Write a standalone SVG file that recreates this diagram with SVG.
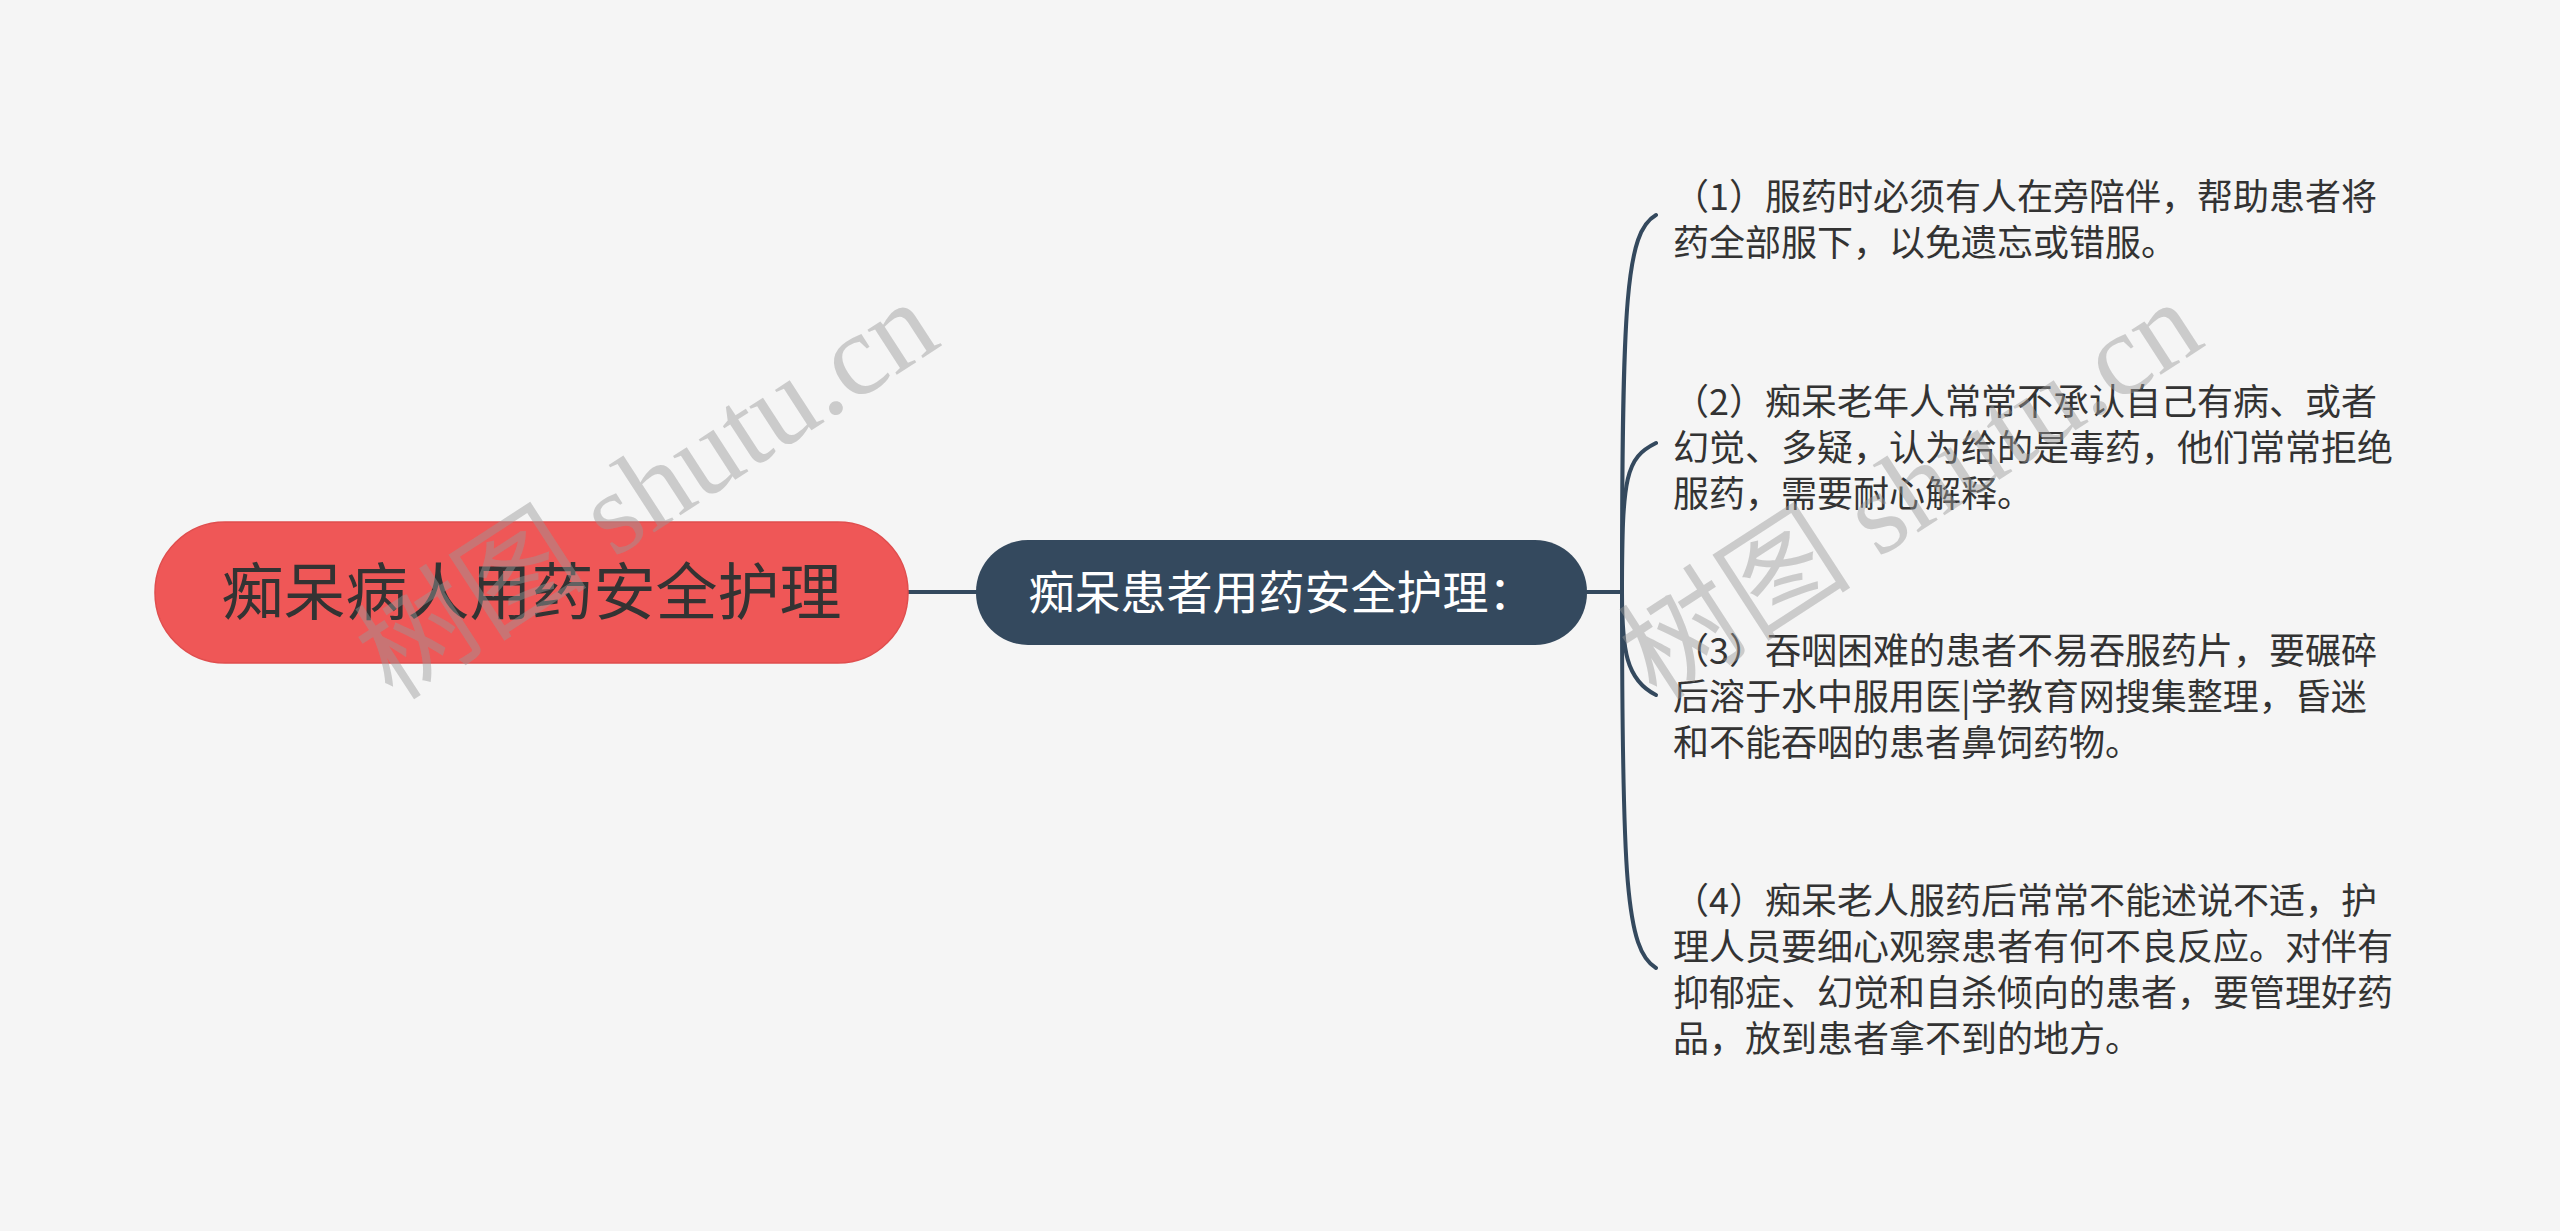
<svg xmlns="http://www.w3.org/2000/svg" width="2560" height="1231" viewBox="0 0 2560 1231">
<style>
.cjk{font-family:"Noto Sans CJK SC","Noto Sans",sans-serif}
.root-t{font-size:62px;fill:#333333}
.main-t{font-size:46px;fill:#ffffff}
.leaf-t{font-size:36px;fill:#333333}
.conn{fill:none;stroke:#34495E;stroke-width:4;stroke-linecap:round}
.wm{font-family:"Liberation Serif","Noto Sans CJK SC",serif;font-size:117px;fill:#999999;fill-opacity:0.45}
</style>
<rect width="2560" height="1231" fill="#F5F5F5"/>
<g id="connectors">
<path class="conn" d="M908,592 L976,592"/>
<path class="conn" d="M1587,592 L1622,592"/>
<path class="conn" d="M1622,592 C1622,300 1626,232 1656,215"/>
<path class="conn" d="M1622,592 C1622,475 1626,458 1656,443"/>
<path class="conn" d="M1622,592 C1622,650 1626,680 1656,695"/>
<path class="conn" d="M1622,592 C1622,880 1626,950 1656,968"/>
</g>
<g id="root">
<rect x="155" y="522" width="753" height="141" rx="70" ry="70" fill="#EF5757" stroke="#E04E4E" stroke-width="1.5"/>
<text class="cjk root-t" x="531.5" y="615" text-anchor="middle">痴呆病人用药安全护理</text>
</g>
<g id="main">
<rect x="976" y="540" width="611" height="105" rx="52" ry="52" fill="#34495E"/>
<text class="cjk main-t" x="1281.5" y="609" text-anchor="middle">痴呆患者用药安全护理：</text>
</g>
<g id="leaf1">
<text class="cjk leaf-t" x="1673" y="210">（1）服药时必须有人在旁陪伴，帮助患者将</text>
<text class="cjk leaf-t" x="1673" y="256">药全部服下，以免遗忘或错服。</text>
</g>
<g id="leaf2">
<text class="cjk leaf-t" x="1673" y="415">（2）痴呆老年人常常不承认自己有病、或者</text>
<text class="cjk leaf-t" x="1673" y="461">幻觉、多疑，认为给的是毒药，他们常常拒绝</text>
<text class="cjk leaf-t" x="1673" y="507">服药，需要耐心解释。</text>
</g>
<g id="leaf3">
<text class="cjk leaf-t" x="1673" y="664">（3）吞咽困难的患者不易吞服药片，要碾碎</text>
<text class="cjk leaf-t" x="1673" y="710">后溶于水中服用医|学教育网搜集整理，昏迷</text>
<text class="cjk leaf-t" x="1673" y="756">和不能吞咽的患者鼻饲药物。</text>
</g>
<g id="leaf4">
<text class="cjk leaf-t" x="1673" y="914">（4）痴呆老人服药后常常不能述说不适，护</text>
<text class="cjk leaf-t" x="1673" y="960">理人员要细心观察患者有何不良反应。对伴有</text>
<text class="cjk leaf-t" x="1673" y="1006">抑郁症、幻觉和自杀倾向的患者，要管理好药</text>
<text class="cjk leaf-t" x="1673" y="1052">品，放到患者拿不到的地方。</text>
</g>
<g id="watermarks">
<text class="wm" transform="translate(393,702) rotate(-33)">树图 shutu.cn</text>
<text class="wm" transform="translate(1657,702) rotate(-33)">树图 shutu.cn</text>
</g>
</svg>
